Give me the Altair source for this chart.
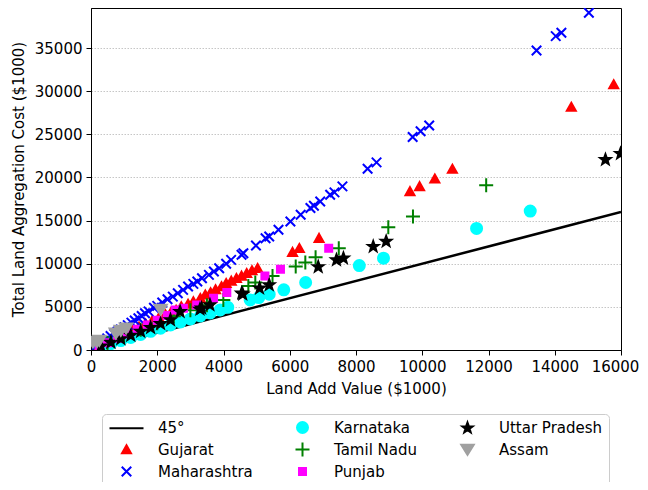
import altair as alt
import pandas as pd

# ---------------- data ----------------
gujarat_x = [15780, 14500, 10910, 10380, 9920, 9630, 6885, 6290, 6085,
             5030, 4860, 4700, 4545, 4390, 4235, 4080, 3940, 3760, 3610, 3450, 3300,
             3090, 2930, 2725, 2570, 2410, 2250, 2050, 1850, 1650, 1450, 1250, 1050,
             850, 650, 450, 250]
gujarat_y = [30770, 28170, 20980, 19850, 18960, 18380, 12965, 11800, 11340,
             9480, 9210, 8900, 8590, 8320, 8010, 7740, 7350, 7000, 6660, 6390, 6000,
             5610, 5340, 5030, 4640, 4330, 4100, 3750, 3400, 3050, 2700, 2330, 1950,
             1600, 1220, 850, 480]

maharashtra_x = [15030, 14200, 14030, 13450, 10210, 9950, 9710, 8620, 8350, 7590,
                 7350, 7220, 6920, 6730, 6625, 6330, 6020, 5660, 5380, 5270, 4980,
                 4600, 4545, 4230, 4080, 3870, 3710, 3560, 3350, 3210, 3090, 2930,
                 2780, 2620, 2470, 2310, 2150, 2000, 1900, 1740, 1630, 1530, 1430,
                 1320, 1220, 1110, 1010, 900, 800, 700, 590, 490, 390, 280, 180]
maharashtra_y = [39090, 36770, 36380, 34710, 26010, 25350, 24690, 21750, 21010, 18960,
                 18270, 18000, 17220, 16720, 16450, 15670, 14900, 13930, 13160, 12960, 12110,
                 11220, 11030, 10450, 9990, 9480, 9100, 8710, 8320, 7930, 7660, 7350,
                 6970, 6580, 6190, 5880, 5500, 5110, 4900, 4480, 4260, 3950, 3680,
                 3420, 3170, 2880, 2630, 2370, 2130, 1870, 1630, 1350, 1080, 830, 580]

karnataka_x = [13260, 11640, 8830, 8100, 6480, 5820, 5380, 5065, 4805, 4130, 3900,
               3600, 3300, 3000, 2700, 2400, 2100, 1800, 1500, 1200, 900, 600, 300]
karnataka_y = [16100, 14090, 10640, 9790, 7820, 6970, 6460, 6080, 5800, 4950, 4650,
               4300, 3950, 3600, 3250, 2900, 2520, 2160, 1800, 1450, 1090, 730, 370]

tamil_x = [11930, 9720, 8975, 7480, 6780, 6470, 6180, 5480, 4960, 4750, 3995, 3500,
           3000, 2500, 2000, 1500, 1000, 500]
tamil_y = [19080, 15480, 14240, 11800, 10760, 10140, 9680, 8590, 7820, 7430, 5800, 5200,
           4600, 3900, 3100, 2350, 1580, 800]

punjab_x = [7176, 5720, 5250, 4100, 3700, 3190, 2790, 2540, 2300, 2000, 1700, 1400,
            1100, 800, 500, 250]
punjab_y = [11800, 9365, 8590, 6660, 6000, 5220, 4840, 4640, 4000, 3450, 2900, 2400,
            1850, 1350, 850, 430]

up_x = [15985, 15530, 8910, 8520, 7620, 7410, 6860, 5380, 5090, 4580, 4550, 3590, 3340,
        3290, 2690, 2400, 2100, 1800, 1500, 1200, 900, 600, 300]
up_y = [22760, 22060, 12580, 11990, 10640, 10440, 9640, 7540, 7160, 6470, 6580, 5220, 4840,
        4720, 4440, 3500, 3050, 2600, 2150, 1700, 1300, 880, 450]

assam_x = [2100, 1060, 900, 750, 250, 180, 60]
assam_y = [4700, 2520, 2250, 1940, 1100, 970, 900]

diag = [0, 16000]

series = [
    ("Gujarat", gujarat_x, gujarat_y),
    ("Maharashtra", maharashtra_x, maharashtra_y),
    ("Karnataka", karnataka_x, karnataka_y),
    ("Tamil Nadu", tamil_x, tamil_y),
    ("Punjab", punjab_x, punjab_y),
    ("Uttar Pradesh", up_x, up_y),
    ("Assam", assam_x, assam_y),
]

rows = []
for name, xs, ys in series:
    for xv, yv in zip(xs, ys):
        rows.append({"state": name, "x": xv, "y": yv})
df = pd.DataFrame(rows)
line_df = pd.DataFrame({"x": diag, "y": diag})

# ---------------- styles ----------------
colors = {
    "45°": "#000000",
    "Gujarat": "#ff0000",
    "Maharashtra": "#0000ff",
    "Karnataka": "#00ffff",
    "Tamil Nadu": "#008000",
    "Punjab": "#ff00ff",
    "Uttar Pradesh": "#000000",
    "Assam": "#a0a0a0",
}
shapes = {
    "45°": "M-3.4,0H3.4",
    "Gujarat": "M0,-0.85L0.9,0.75L-0.9,0.75Z",
    "Maharashtra": "M-0.95,-0.95L0.95,0.95M-0.95,0.95L0.95,-0.95",
    "Karnataka": "M-1.1,0 A1.1,1.1 0 1,1 1.1,0 A1.1,1.1 0 1,1 -1.1,0 Z",
    "Tamil Nadu": "M-1.4,0H1.4M0,-1.4V1.4",
    "Punjab": "M-0.7,-0.7H0.7V0.7H-0.7Z",
    "Uttar Pradesh": "M0,-1.1L0.265,-0.364L1.046,-0.34L0.428,0.139L0.647,0.89L0,0.45L-0.647,0.89L-0.428,0.139L-1.046,-0.34L-0.265,-0.364Z",
    "Assam": "M-1.25,-0.95H1.25L0,1.05Z",
}
# Vega fills the legend grid column by column, like the reference
legend_order = ["45°", "Gujarat", "Maharashtra",
                "Karnataka", "Tamil Nadu", "Punjab",
                "Uttar Pradesh", "Assam"]

color_scale = alt.Scale(domain=legend_order, range=[colors[k] for k in legend_order])
shape_scale = alt.Scale(domain=legend_order, range=[shapes[k] for k in legend_order])

legend = alt.Legend(
    title=None, orient="none", legendX=11, legendY=406, columns=3,
    padding=6, rowPadding=1, columnPadding=31, symbolOffset=11, labelOffset=24,
    symbolSize=100, symbolStrokeWidth=2, labelFontSize=15, labelLimit=300,
    strokeColor="#cccccc", fillColor="white", cornerRadius=4,
)

x_enc = alt.X("x:Q", scale=alt.Scale(domain=[0, 16000], nice=False, zero=False),
              axis=alt.Axis(title="Land Add Value ($1000)",
                            values=[0, 2000, 4000, 6000, 8000, 10000, 12000, 14000, 16000],
                            format="d", grid=False, labelFlush=False, labelOverlap=False,
                            labelOffset={"condition": {"test": "datum.value == 16000", "value": -6},
                                         "value": 0}))
y_enc = alt.Y("y:Q", scale=alt.Scale(domain=[0, 39637], nice=False, zero=False),
              axis=alt.Axis(title="Total Land Aggregation Cost ($1000)",
                            values=[0, 5000, 10000, 15000, 20000, 25000, 30000, 35000],
                            format="d", grid=True, gridDash=[1.5, 1.5], gridColor="#b8b8b8",
                            gridWidth=0.8, labelOverlap=False))

line = alt.Chart(line_df).mark_line(color="black", strokeWidth=2.5, clip=True).encode(
    x=x_enc, y=y_enc)

points = alt.Chart(df).mark_point(filled=True, opacity=1, size=100, strokeWidth=2,
                                  clip=True).encode(
    x=x_enc, y=y_enc,
    fill=alt.Fill("state:N", scale=color_scale, legend=legend),
    stroke=alt.Stroke("state:N", scale=color_scale, legend=legend),
    shape=alt.Shape("state:N", scale=shape_scale, legend=legend),
)

chart = alt.layer(line, points).properties(
    width=530, height=342,
    autosize=alt.AutoSizeParams(type="none"),
    padding={"left": 83, "top": 0, "right": 19, "bottom": 132},
).configure(
    font="DejaVu Sans",
).configure_view(
    stroke="black", strokeWidth=1,
).configure_axis(
    labelFontSize=15, titleFontSize=15, titleFontWeight="normal",
    labelColor="black", titleColor="black", domainColor="black", tickColor="black",
    tickSize=5, labelPadding=4, domainWidth=1, tickWidth=1,
).configure_axisX(
    titlePadding=7,
).configure_axisY(
    titlePadding=8,
)

chart.save("out.html", embed_options={"renderer": "svg", "actions": False})
